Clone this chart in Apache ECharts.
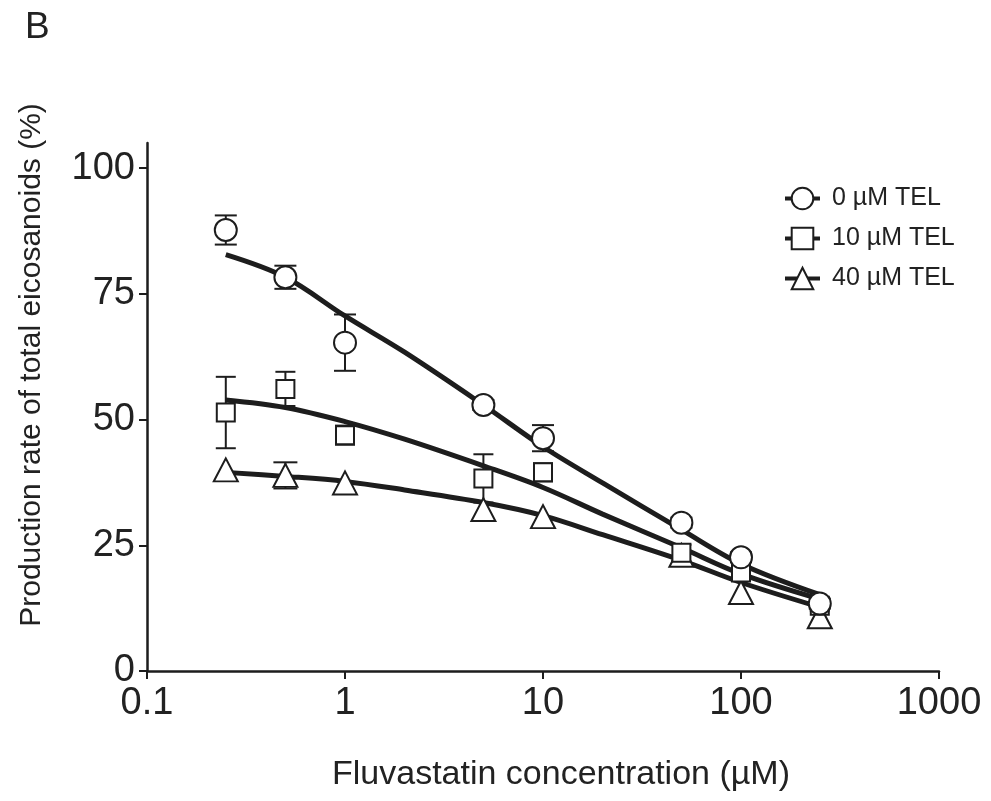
<!DOCTYPE html>
<html>
<head>
<meta charset="utf-8">
<title>Fluvastatin / TEL</title>
<script src="https://cdn.jsdelivr.net/npm/echarts@6/dist/echarts.min.js"></script>
<style>
  html, body { margin: 0; padding: 0; background: #fff; }
  #chart { width: 991px; height: 801px; }
</style>
</head>
<body>
<div id="chart"></div>
<script>
// concentrations (µM) of the measured points
const conc = [0.25, 0.5, 1, 5, 10, 50, 100, 250];

// mean values
const mean0 = [87.7, 78.3, 65.3, 52.9, 46.3, 29.5, 22.6, 13.4];
const mean10 = [51.4, 56.1, 46.9, 38.3, 39.5, 23.5, 19.6, 13.0];
const mean40 = [40.0, 38.9, 37.4, 32.1, 30.7, 23.0, 15.6, 10.8];

// error bars (+/-), 0 = hidden / not drawn
const err0 = [2.9, 2.3, 5.6, 1.0, 2.6, 1.0, 1.0, 1.0];
const err10 = [7.1, 3.4, 1.9, 4.8, 1.8, 1.6, 1.2, 1.0];
const err40 = [0, 2.6, 0, 0, 0, 0, 0, 0];

// fitted curves, read at these concentrations
const fitConc = [0.25, 0.5, 1, 2, 5, 10, 20, 50, 100, 250];
const fit0 = [82.8, 78.3, 70.6, 63.4, 52.9, 44.6, 37.4, 28.1, 21.3, 15.2];
const fit10 = [53.9, 52.4, 49.6, 46.1, 40.8, 36.5, 31.2, 24.5, 19.3, 14.3];
const fit40 = [39.5, 38.7, 37.7, 36.0, 33.5, 30.9, 27.1, 22.0, 17.6, 12.7];

const names = ["0 µM TEL", "10 µM TEL", "40 µM TEL"];
const yTicks = [0, 25, 50, 75, 100];

const ink = "#1d1d1d";
const font = "'Liberation Sans', Arial, Helvetica, sans-serif";

function pairs(xs, ys) {
  return xs.map((x, i) => [x, ys[i]]);
}
function errData(means, errs) {
  return conc.map((c, i) => [c, means[i] - errs[i], means[i] + errs[i]]);
}

// draws whisker + two caps
function errorBar(capW) {
  return function (params, api) {
    const x = api.value(0);
    if (api.value(2) <= api.value(1)) return null;
    const top = api.coord([x, api.value(2)]);
    const bot = api.coord([x, api.value(1)]);
    const style = { stroke: ink, lineWidth: 2 };
    return {
      type: "group",
      children: [
        { type: "line", shape: { x1: top[0], y1: top[1], x2: bot[0], y2: bot[1] }, style: style },
        { type: "line", shape: { x1: top[0] - capW / 2, y1: top[1], x2: top[0] + capW / 2, y2: top[1] }, style: style },
        { type: "line", shape: { x1: bot[0] - capW / 2, y1: bot[1], x2: bot[0] + capW / 2, y2: bot[1] }, style: style }
      ]
    };
  };
}

function fitSeries(name, data, symbol) {
  return {
    name: name,
    type: "line",
    data: data,
    smooth: 0.35,
    symbol: symbol,
    showSymbol: false,
    lineStyle: { color: ink, width: 5 },
    itemStyle: { color: "#fff", borderColor: ink, borderWidth: 2 },
    z: 2,
    silent: true
  };
}

function errSeries(data, capW) {
  return {
    type: "custom",
    data: data,
    renderItem: errorBar(capW),
    encode: { x: 0, y: [1, 2] },
    z: 3,
    silent: true
  };
}

function pointSeries(data, symbol, size) {
  return {
    type: "scatter",
    data: data,
    symbol: symbol,
    symbolSize: size,
    itemStyle: { color: "#fff", borderColor: ink, borderWidth: 2, opacity: 1 },
    z: 4,
    silent: true
  };
}

const chart = echarts.init(document.getElementById("chart"));

const option = {
  backgroundColor: "#fff",
  animation: false,
  textStyle: { fontFamily: font },
  grid: { left: 147, right: 52, top: 143, bottom: 130 },
  legend: {
    data: names,
    orient: "vertical",
    left: 778,
    top: 181,
    itemWidth: 35,
    itemHeight: 27,
    itemGap: 15,
    lineStyle: { width: 4 },
    textStyle: { fontSize: 25, color: "#222", fontFamily: font, padding: [0, 0, 0, 7] }
  },
  graphic: [
    { type: "text", left: 25, top: 9, style: { text: "B", fontSize: 37, fill: "#222", fontFamily: font } }
  ],
  xAxis: {
    type: "log",
    logBase: 10,
    min: 0.1,
    max: 1000,
    name: "Fluvastatin concentration (µM)",
    nameLocation: "middle",
    nameGap: 87,
    nameTextStyle: { fontSize: 34, color: "#222", fontFamily: font, padding: [0, 0, 0, 36] },
    axisLine: { lineStyle: { color: ink, width: 2.5 } },
    axisTick: { length: 8, lineStyle: { color: ink, width: 2 } },
    minorTick: { show: false },
    splitLine: { show: false },
    axisLabel: {
      fontSize: 38,
      color: "#222",
      margin: 14,
      formatter: function (v) { return String(+(+v).toPrecision(3)); }
    }
  },
  yAxis: {
    type: "value",
    min: 0,
    max: 105,
    interval: 25,
    name: "Production rate of total eicosanoids (%)",
    nameLocation: "middle",
    nameRotate: 90,
    nameGap: 100,
    nameTextStyle: { fontSize: 30, color: "#222", fontFamily: font, padding: [0, 0, 0, 84] },
    axisLine: { show: true, lineStyle: { color: ink, width: 2.5 } },
    axisTick: { show: true, length: 8, customValues: yTicks, lineStyle: { color: ink, width: 2 } },
    splitLine: { show: false },
    axisLabel: {
      fontSize: 38,
      color: "#222",
      margin: 12,
      customValues: yTicks,
      formatter: function (v) { return v > 100 ? "" : String(v); }
    }
  },
  series: [
    fitSeries(names[0], pairs(fitConc, fit0), "circle"),
    fitSeries(names[1], pairs(fitConc, fit10), "rect"),
    fitSeries(names[2], pairs(fitConc, fit40), "triangle"),
    errSeries(errData(mean0, err0), 22),
    errSeries(errData(mean10, err10), 20),
    errSeries(errData(mean40, err40), 24),
    pointSeries(pairs(conc, mean40), "triangle", [24, 23]),
    pointSeries(pairs(conc, mean10), "rect", 18),
    pointSeries(pairs(conc, mean0), "circle", 22)
  ]
};

chart.setOption(option);
</script>
</body>
</html>
